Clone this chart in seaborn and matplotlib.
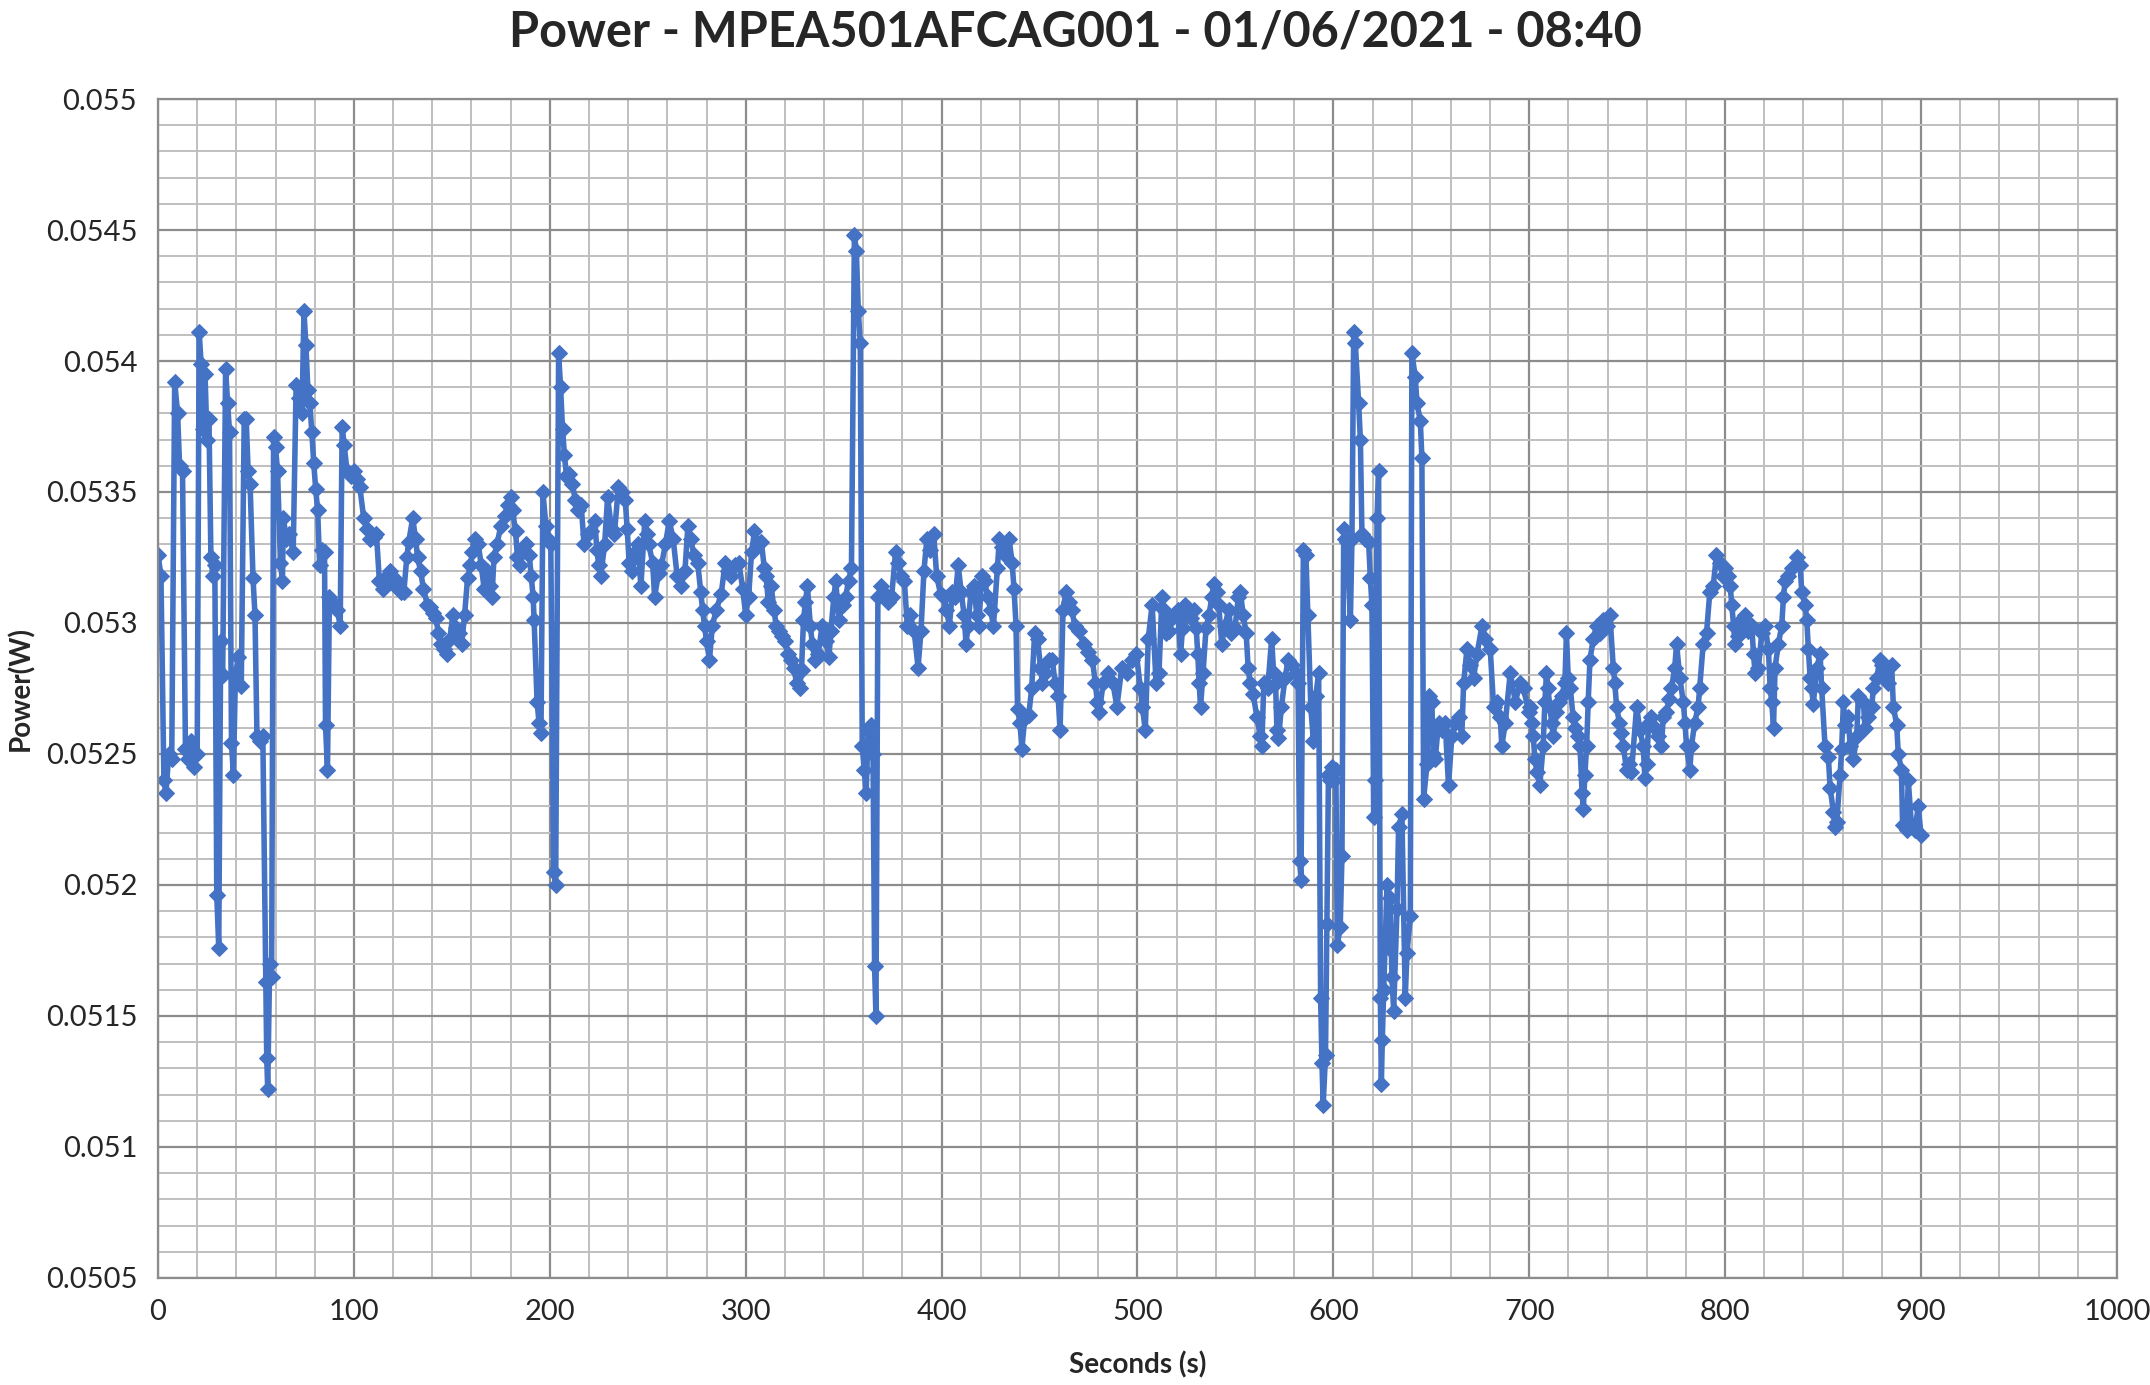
import matplotlib
matplotlib.use("Agg")
import matplotlib.pyplot as plt
from matplotlib.ticker import MultipleLocator, FuncFormatter
import pandas as pd
import seaborn as sns

sns.set_style("white")
plt.rcParams['font.family'] = ['Lato', 'DejaVu Sans']

## Data (seconds, power in W)
seconds = [
    # 0-100
    0, 1.5, 3, 4, 5.5, 7, 8.5, 10, 11, 12.5, 14, 15.5, 17, 18.5, 20, 21, 22, 23, 24, 25,
    26, 27, 28, 29, 30, 31, 32, 33, 34.5, 35.5, 36.5, 37.5, 38.5, 39.5, 41, 42.5, 44, 45, 46, 47,
    48.5, 49.5, 50.5, 52, 53.5, 55, 55.5, 56, 57, 58, 59, 60, 61, 62.5, 63.5, 64, 65.5, 67, 69, 70.5,
    72, 73.5, 74.5, 75.5, 76.5, 77.5, 78.5, 79.5, 80.5, 81.5, 82.5, 83.5, 85, 85.5, 86.5, 87.5, 89, 91.5, 93, 94,
    95, 96.5, 98.5,
    # 100-200
    100, 101.5, 103, 105, 106.5, 108, 110, 111.5, 113, 115, 117, 118.5, 120, 122, 124, 125.5, 127, 128, 130, 131.5,
    132.5, 134, 135.5, 137.5, 139, 140.5, 142, 143, 144.5, 146, 147.5, 149, 150.5, 152, 153.5, 155, 156.5, 158, 159.5, 160.5,
    162, 163.5, 165, 166.5, 168, 169.5, 170.5, 171.5, 173, 175, 177, 178.5, 180, 181, 182.5, 183.5, 185, 186.5, 188, 189.5,
    190.5, 191.5, 192, 193.5, 194.5, 195.5, 196.5, 198, 199, 200.5, 202, 203,
    # 200-300
    204.5, 205.5, 206.5, 207.5, 208.5, 210, 211.5, 213, 214.5, 216, 217.5, 219.5, 221, 223, 224, 225, 226, 228, 229.5, 231.5,
    233, 235, 237, 238.5, 239.5, 240.5, 242, 243.5, 245, 246.5, 248.5, 249.5, 250.5, 252.5, 253.5, 255.5, 257, 259, 261, 263,
    265, 267, 269, 270.5, 272, 273.5, 275.5, 277, 278, 279, 280, 281.5, 283, 285, 287.5, 289.5, 291, 292.5, 294.5, 296.5,
    298.5,
    # 300-400
    300, 301.5, 303, 304.5, 306.5, 308, 309.5, 310.5, 311.5, 313, 314.5, 315.5, 317, 318.5, 320, 321.5, 323, 324.5, 326, 327.5,
    328.5, 329.5, 330.5, 331.5, 333, 334, 335.5, 337, 339, 341, 342.5, 343.5, 345, 346, 347.5, 349.5, 351, 352.5, 354, 355.5,
    356.5, 357.5, 358.5, 359.5, 360.5, 361.5, 362.5, 364, 365, 365.8, 366.5, 367.5, 369, 371, 372.5, 374.5, 376.5, 378, 379.5, 381,
    382.5, 384, 386, 388, 389.5, 391, 392.5, 394, 396, 397.5, 399.5,
    # 400-500
    401, 402.5, 404, 405.5, 407, 408.5, 410, 411.5, 412.5, 413.5, 415, 416.5, 418, 419, 420.5, 422, 423.5, 425, 426.5, 428.5,
    429.5, 431, 432.5, 434.5, 436, 437, 438, 438.8, 440, 441, 442.5, 444.5, 446, 447.5, 449, 450.5, 451.5, 453, 455, 456.5,
    458, 459.5, 460.5, 462, 463.5, 465, 466.5, 468, 470, 472.5, 475, 477, 478.5, 479.5, 480.5, 482.5, 485, 487.5, 489.5, 492,
    494.5, 497, 499.5, 501.5, 502.5, 504, 505.5, 507.5,
    # 500-600
    509.5, 511, 512.5, 513.5, 514.5, 516, 517.5, 519, 520.5, 522, 523, 524.5, 526, 527.5, 529, 530, 530.8, 531.5, 532.2, 533.5,
    535, 536.5, 538, 539, 540.5, 541.5, 543, 544.7, 546.5, 548, 549.8, 551.5, 552.5, 554, 555.5, 556.5, 557.5, 559, 561, 562.5,
    563.5, 564.5, 566.5, 568.5, 569.5, 570.5, 571.2, 572, 573.5, 575.3, 577, 579, 581, 582, 582.8, 583.5, 584.7, 586, 587, 588.5,
    589.8, 591, 592.5, 593.5, 594.2, 594.8, 596, 596.7, 597.5, 598.5, 599.5,
    # 600-700
    600.5, 601.3, 602, 603.5, 604.4, 605.3, 606.2, 607, 608.7, 609.5, 610.4, 611.2, 612.9, 613.8, 614.6, 616.3, 618, 618.9, 619.7, 620.6,
    621.4, 622.3, 623.1, 624, 624.5, 625, 625.7, 627.4, 628.2, 629.1, 629.9, 630.8, 632.5, 633.3, 635, 636.7, 637.6, 639.3, 640.1, 641.8,
    642.7, 644.4, 645.2, 646.1, 647.8, 648.6, 650.3, 651, 652, 653.7, 655.4, 657.1, 658.8, 660.5, 662.2, 663.9, 665.6, 666.5, 668.2, 669.9,
    671.6, 673.3, 675.9, 677.6, 680.1, 681.8, 683.5, 685.2, 686, 687.8, 690.3, 692.9, 695.4, 697.1, 699.7,
    # 700-800
    700.3, 701.2, 702, 702.9, 704, 705.4, 707.1, 708, 708.8, 709.6, 710.5, 711.5, 712.2, 713.9, 715, 716.5, 718.2, 719, 719.9, 721,
    722.4, 723.3, 725, 725.9, 727, 727.6, 728.4, 729.3, 730.1, 731, 732.7, 734.4, 736, 737.8, 739.5, 741.2, 742.9, 743.7, 744.6, 746,
    747.1, 748, 749.7, 751, 752.2, 754.8, 756.5, 758.2, 759, 759.9, 761, 762.4, 764, 765.8, 767.5, 768.4, 770, 771.5, 772.6, 774.3,
    775.2, 776.9, 778.6, 779.5, 780.3, 782, 782.8, 784.5, 786.2, 787, 788.8, 790.5, 792.2, 793.9, 795.6, 797.3, 799,
    # 800-900
    800, 801.7, 802.6, 803.4, 804.3, 805.1, 806.5, 807.7, 809, 810.2, 811.9, 813.6, 814.5, 815.3, 817, 818.7, 820.4, 822.1, 823, 823.8,
    824.7, 825.5, 827.2, 828.9, 829.8, 830.6, 832.3, 834, 836.6, 838.3, 839.1, 840.8, 841.7, 842.5, 843.4, 844.2, 845, 846.8, 848.5, 849.3,
    851, 852.7, 853.6, 855.3, 856.1, 857, 858.7, 859.5, 860.4, 861.2, 862.9, 863.8, 865.5, 867.2, 868, 870.6, 871.4, 873.1, 874.8, 875.7,
    877.4, 879, 879.9, 881.6, 883.3, 885, 885.9, 887.6, 888.4, 890, 890.6, 892.7, 893.5, 895.2, 896.9, 898.6, 900,
]

power_w = [
    # 0-100
    .05326, .05318, .0524, .05235, .0525, .05248, .05392, .0538, .0536, .05358, .05252, .05248, .05255, .05245, .0525, .05411, .05399, .05374, .05395, .0537,
    .05378, .05325, .05318, .05322, .05196, .05176, .05293, .0528, .05397, .05384, .05373, .05254, .05242, .0528, .05287, .05276, .05378, .05378, .05358, .05353,
    .05317, .05303, .05257, .05255, .05257, .05163, .05134, .05122, .0517, .05165, .05371, .05367, .05358, .05323, .05316, .0534, .05332, .05334, .05327, .05391,
    .05386, .0538, .05419, .05406, .05389, .05384, .05373, .05361, .05351, .05343, .05322, .05328, .05327, .05261, .05244, .0531, .05308, .05305, .05299, .05375,
    .05368, .05358, .05356,
    # 100-200
    .05358, .05355, .05352, .0534, .05336, .05332, .05333, .05334, .05316, .05313, .05318, .0532, .05315, .05316, .05312, .05312, .05325, .05331, .0534, .05332,
    .05325, .0532, .05313, .05307, .05306, .05304, .05302, .05296, .05292, .0529, .05288, .05294, .05303, .05298, .05296, .05292, .05303, .05317, .05322, .05327,
    .05332, .0533, .05322, .05313, .0532, .05314, .0531, .05325, .0533, .05337, .05341, .05345, .05348, .05343, .05335, .05325, .05322, .05328, .0533, .05326,
    .05318, .0531, .05301, .0527, .05262, .05258, .0535, .05337, .05332, .0533, .05205, .052,
    # 200-300
    .05403, .0539, .05374, .05364, .05356, .05357, .05353, .05347, .05343, .05345, .0533, .05334, .05335, .05339, .05328, .05322, .05318, .0533, .05348, .05336,
    .05334, .05352, .0535, .05347, .05336, .05323, .0532, .05327, .0533, .05314, .05339, .05334, .0533, .05323, .0531, .05319, .05322, .0533, .05339, .05332,
    .05318, .05314, .0532, .05337, .05332, .05326, .05323, .05312, .05305, .05299, .05293, .05286, .05299, .05305, .05311, .05323, .0532, .05318, .05322, .05323,
    .05313,
    # 300-400
    .05303, .0531, .05327, .05335, .0533, .05331, .05321, .05318, .05308, .05314, .05305, .05299, .05297, .05295, .05293, .05288, .05286, .05283, .05277, .05275,
    .05282, .05301, .05308, .05314, .05299, .05292, .05286, .05288, .05299, .05293, .05287, .05297, .0531, .05316, .05301, .05307, .0531, .05316, .05321, .05448,
    .05442, .05419, .05407, .05253, .05244, .05235, .05259, .05261, .0525, .05169, .0515, .0531, .05314, .05311, .05308, .0531, .05327, .05323, .05318, .05316,
    .05299, .05303, .05297, .05283, .05297, .0532, .05332, .05328, .05334, .05318, .05311,
    # 400-500
    .0531, .05305, .05299, .05312, .0531, .05322, .05312, .05303, .05292, .05299, .05312, .05314, .05303, .05299, .05318, .05316, .0531, .05305, .05299, .05321,
    .05332, .05329, .05326, .05332, .05323, .05313, .05299, .05267, .05262, .05252, .05264, .05265, .05275, .05296, .05294, .05283, .05277, .05281, .05286, .05286,
    .05277, .05272, .05259, .05305, .05312, .05308, .05305, .05299, .05297, .05292, .05289, .05286, .05277, .0527, .05266, .05277, .05281, .05277, .05268, .05283,
    .05281, .05286, .05288, .05275, .05268, .05259, .05294, .05307,
    # 500-600
    .05277, .05281, .0531, .05305, .05296, .05297, .05302, .05303, .05305, .05288, .05298, .05307, .05303, .05302, .05305, .05298, .05288, .05277, .05268, .05281,
    .05298, .05303, .0531, .05315, .05312, .05307, .05292, .05299, .05305, .05296, .05298, .0531, .05312, .05303, .05296, .05283, .05277, .05273, .05264, .05257,
    .05253, .05277, .05275, .05294, .05281, .05277, .05259, .05256, .05268, .05279, .05286, .05284, .05281, .05277, .05209, .05202, .05328, .05326, .05303, .05268,
    .05255, .05272, .05281, .05157, .05132, .05116, .05135, .05185, .05242, .0524, .05245,
    # 600-700
    .0524, .05244, .05177, .05184, .05211, .05336, .05332, .05331, .05301, .05332, .05411, .05407, .05384, .0537, .05334, .05332, .05331, .05317, .05307, .05226,
    .0524, .0534, .05358, .05157, .05124, .05141, .0516, .052, .05176, .05195, .05165, .05152, .05191, .05222, .05227, .05157, .05174, .05188, .05403, .05394,
    .05384, .05377, .05363, .05233, .05246, .05272, .0527, .0525, .05248, .05262, .05259, .05262, .05238, .05257, .05262, .05264, .05257, .05277, .0529, .05284,
    .05279, .05288, .05299, .05294, .0529, .05268, .0527, .05264, .05253, .05262, .05281, .0527, .05277, .05275, .05266,
    # 700-800
    .05268, .05262, .05257, .05248, .05243, .05238, .05253, .0527, .05281, .05275, .05268, .05262, .05257, .05266, .0527, .05272, .05277, .05296, .05279, .05275,
    .05264, .0526, .05257, .05253, .05235, .05229, .05242, .05253, .0527, .05286, .05294, .05299, .05296, .05301, .05299, .05303, .05283, .05277, .05268, .05262,
    .05258, .05253, .05244, .05246, .05243, .05268, .05259, .05253, .05241, .05246, .05262, .05264, .0526, .05257, .05253, .05264, .05266, .05271, .05275, .05283,
    .05292, .05279, .0527, .05262, .05253, .05244, .05253, .05262, .05268, .05275, .05292, .05296, .05312, .05314, .05326, .05323, .05318,
    # 800-900
    .05321, .05318, .05314, .05307, .05299, .05292, .05295, .053, .05302, .05303, .05297, .05299, .05288, .05281, .05283, .05296, .05299, .0529, .05275, .0527,
    .0526, .05283, .05292, .05299, .0531, .05316, .05318, .05321, .05325, .05322, .05312, .05307, .05301, .0529, .05279, .05275, .05269, .05283, .05288, .05275,
    .05253, .05249, .05237, .05228, .05222, .05224, .05242, .05252, .0527, .05261, .05264, .05253, .05248, .05257, .05272, .0527, .0526, .05264, .05268, .05275,
    .05279, .05286, .05284, .05282, .05277, .05284, .05268, .05261, .0525, .05244, .05223, .05221, .0524, .05222, .05221, .0523, .05219,
]

title = "Power - MPEA501AFCAG001 - 01/06/2021 - 08:40"
line_color = "#4472C4"

df = pd.DataFrame({"Seconds": seconds, "Power": power_w})

fig = plt.figure(figsize=(21.5, 13.85), dpi=100)
ax = fig.add_axes([0.0735, 0.0773, 0.9111, 0.8512])

sns.lineplot(data=df, x="Seconds", y="Power", ax=ax, sort=False, estimator=None,
             color=line_color, linewidth=4, marker="D", markersize=8.5,
             markeredgecolor=line_color, markerfacecolor=line_color)

ax.set_xlim(0, 1000)
ax.set_ylim(0.0505, 0.055)
ax.xaxis.set_major_locator(MultipleLocator(100))
ax.xaxis.set_minor_locator(MultipleLocator(20))
ax.yaxis.set_major_locator(MultipleLocator(0.0005))
ax.yaxis.set_minor_locator(MultipleLocator(0.0001))
ax.yaxis.set_major_formatter(FuncFormatter(lambda v, p: "{:g}".format(round(v, 5))))
ax.xaxis.set_major_formatter(FuncFormatter(lambda v, p: "{:g}".format(round(v))))

ax.grid(which="major", color="#8c8c8c", linewidth=1.6)
ax.grid(which="minor", color="#bfbfbf", linewidth=1.4)
ax.set_axisbelow(True)
for s in ax.spines.values():
    s.set_color("#8c8c8c")
    s.set_linewidth(1.6)

ax.tick_params(axis="both", which="major", labelsize=21, length=7, width=1.6,
               color="#8c8c8c", direction="out", pad=8)
ax.tick_params(axis="both", which="minor", length=0)

ax.set_xlabel("Seconds (s)", fontsize=20, fontweight="bold", labelpad=19)
ax.set_ylabel("Power(W)", fontsize=20, fontweight="bold", labelpad=8)
fig.suptitle(title, fontsize=35, fontweight="bold", y=0.993, va="top")

fig.savefig("out.png", dpi=100)
